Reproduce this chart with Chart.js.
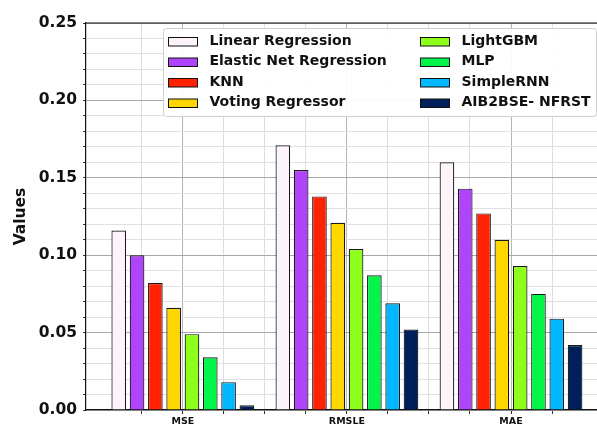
<!DOCTYPE html>
<html>
<head>
<meta charset="utf-8">
<script src="https://cdn.jsdelivr.net/npm/chart.js@4.4.1/dist/chart.umd.min.js"></script>
<style>
  body { margin: 0; background: #fff; overflow: hidden; }
  #wrap { width: 597px; height: 427px; position: relative; }
</style>
</head>
<body>
<div id="wrap"><canvas id="canv"></canvas></div>
<script>
// metrics on the x axis
var categories = ['MSE', 'RMSLE', 'MAE'];
var models = ['Linear Regression', 'Elastic Net Regression', 'KNN', 'Voting Regressor',
              'LightGBM', 'MLP', 'SimpleRNN', 'AIB2BSE- NFRST'];
var couleurs = ['#fdf4fb', '#b044fa', '#ff2200', '#ffd700', '#8eff1a', '#00f548', '#00b8ff', '#00205b'];

// values, order : MSE, RMSLE, MAE
var linearReg  = [0.116, 0.171, 0.160];
var elasticNet = [0.100, 0.155, 0.143];
var knn        = [0.082, 0.138, 0.127];
var voting     = [0.066, 0.121, 0.110];
var lightgbm   = [0.049, 0.104, 0.093];
var mlp        = [0.034, 0.087, 0.075];
var simpleRnn  = [0.018, 0.069, 0.059];
var aib2bse    = [0.003, 0.052, 0.042];
var series = [linearReg, elasticNet, knn, voting, lightgbm, mlp, simpleRnn, aib2bse];

// y ticks with labels
var yTicks = [0.00, 0.05, 0.10, 0.15, 0.20, 0.25];

var font = 'DejaVu Sans';

function isMultiple(v, step){
  var r = v / step;
  return Math.abs(r - Math.round(r)) < 1e-6;
}

// legend in two columns (column order), drawn inside the plot
const legendBox = {
  id: 'legendBox',
  afterDraw(chart){
    const ctx = chart.ctx;
    const a = chart.chartArea;
    const x0 = a.left + 77.5, y0 = a.top + 5.5;
    ctx.save();
    ctx.fillStyle = 'rgba(255,255,255,0.92)';
    ctx.strokeStyle = '#cfcfcf';
    ctx.lineWidth = 1;
    ctx.beginPath();
    ctx.roundRect(x0, y0, 433, 88, 3);
    ctx.fill();
    ctx.stroke();
    ctx.font = 'bold 14px ' + font;
    ctx.textBaseline = 'middle';
    chart.data.datasets.forEach(function(ds, i){
      var col = Math.floor(i / 4), row = i % 4;
      var sx = x0 + 5 + col * 252;
      var sy = y0 + 13 + row * 20.5;
      ctx.fillStyle = ds.backgroundColor;
      ctx.fillRect(sx, sy - 4, 29, 8.5);
      ctx.strokeStyle = '#111';
      ctx.lineWidth = 1;
      ctx.strokeRect(sx, sy - 4, 29, 8.5);
      ctx.fillStyle = '#111';
      ctx.fillText(ds.label, sx + 41, sy - 0.5);
    });
    ctx.restore();
  }
};

// top spine
const topLine = {
  id: 'topLine',
  afterDatasetsDraw(chart){
    const ctx = chart.ctx, a = chart.chartArea;
    ctx.save();
    ctx.strokeStyle = '#111';
    ctx.lineWidth = 1.2;
    ctx.beginPath();
    ctx.moveTo(a.left, a.top);
    ctx.lineTo(a.right, a.top);
    ctx.stroke();
    ctx.restore();
  }
};

var datasets = series.map(function(vals, i){
  return {
    label: models[i],
    data: vals.map(function(v, j){ return {x: j, y: v}; }),
    backgroundColor: couleurs[i],
    borderColor: '#1a1a1a',
    borderWidth: 1.2,
    // ruler min is the 0.25 tick spacing, so the percentage is relative to it
    categoryPercentage: 3.57,
    barPercentage: 0.80
  };
});

function gridX(c){
  if (!c.tick) return '#dedede';
  return isMultiple(c.tick.value, 1) ? '#b4b4b4' : '#dedede';
}
function gridY(c){
  if (!c.tick) return '#e0e0e0';
  return isMultiple(c.tick.value, 0.05) ? '#a8a8a8' : '#e0e0e0';
}

new Chart(document.getElementById('canv'), {
  type: 'bar',
  data: { datasets: datasets },
  plugins: [topLine, legendBox],
  options: {
    responsive: true,
    maintainAspectRatio: false,
    animation: false,
    layout: { padding: { top: 23, right: 0, left: 0, bottom: 0 } },
    plugins: {
      legend: { display: false },
      tooltip: { enabled: false }
    },
    scales: {
      x: {
        type: 'linear',
        offset: false,
        min: -0.59,
        max: 2.524,
        afterBuildTicks: function(scale){
          scale.ticks = scale.ticks.filter(function(t){ return isMultiple(t.value, 0.25); });
        },
        afterFit: function(scale){ scale.height = 17; },
        ticks: {
          stepSize: 0.25,
          autoSkip: false,
          maxRotation: 0,
          padding: 2,
          color: '#111',
          font: { family: font, size: 9.5, weight: 'bold' },
          callback: function(v){
            return isMultiple(v, 1) ? categories[Math.round(v)] : '';
          }
        },
        grid: {
          offset: false,
          color: gridX,
          tickColor: '#333',
          tickLength: 4,
          lineWidth: 1
        },
        border: { display: true, color: '#111', width: 1.2 }
      },
      y: {
        min: 0,
        max: 0.25,
        afterFit: function(scale){ scale.width = 86; },
        ticks: {
          stepSize: 0.01,
          autoSkip: false,
          padding: 6,
          color: '#111',
          font: { family: font, size: 15.5, weight: 'bold' },
          callback: function(v){
            var hit = yTicks.find(function(t){ return Math.abs(t - v) < 1e-6; });
            return hit === undefined ? '' : hit.toFixed(2);
          }
        },
        grid: {
          color: gridY,
          tickColor: '#333',
          tickLength: 3,
          lineWidth: 1
        },
        border: { display: true, color: '#111', width: 1.2 },
        title: {
          display: true,
          text: 'Values',
          color: '#111',
          font: { family: font, size: 15.5, weight: 'bold' },
          padding: { top: 12, bottom: 0 }
        }
      }
    }
  }
});
</script>
</body>
</html>
